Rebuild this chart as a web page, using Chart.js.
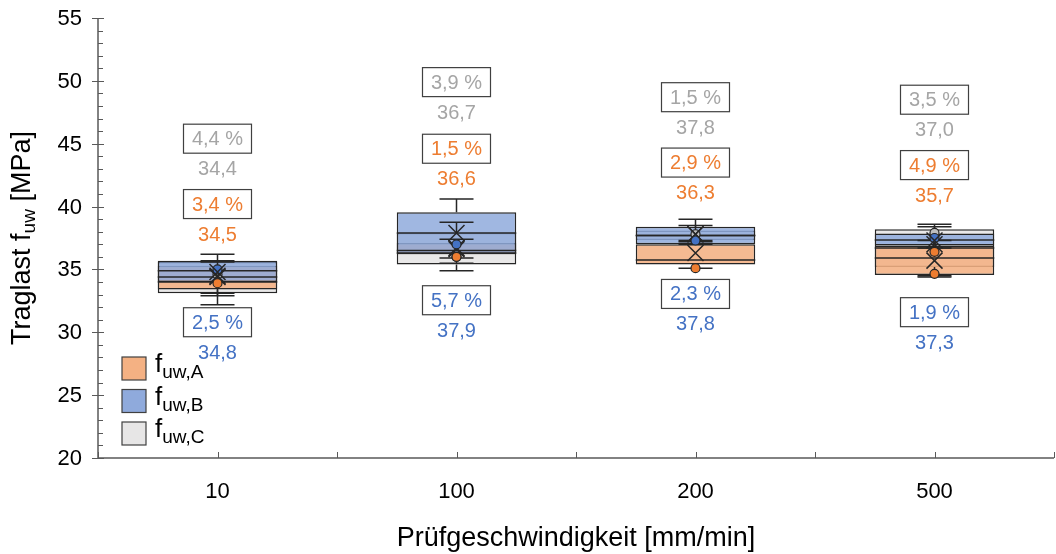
<!DOCTYPE html>
<html>
<head>
<meta charset="utf-8">
<script src="https://cdn.jsdelivr.net/npm/chart.js@4.4.1/dist/chart.umd.min.js"></script>
<style>
  html, body { margin: 0; padding: 0; background: #fff; }
  #wrap { width: 1056px; height: 554px; }
</style>
</head>
<body>
<div id="wrap"><canvas id="boxChart" width="1056" height="554"></canvas></div>
<script>
// Kategorien (Pruefgeschwindigkeit)
var categories = ['10', '100', '200', '500'];
var yTicks = [20, 25, 30, 35, 40, 45, 50, 55];

// f_uw,A (orange)
var minA  = [33.1, 35.9, 35.1, 34.5];
var q1A   = [33.4, 36.2, 35.4, 34.55];
var medA  = [34.0, 36.5, 35.75, 35.9];
var q3A   = [35.3, 37.1, 37.0, 36.9];
var maxA  = [35.6, 37.4, 37.2, 37.3];
var meanA = [34.5, 36.6, 36.3, 35.7];
var cvA   = [3.4, 1.5, 2.9, 4.9];
var ptsA  = [[33.9], [36.0], [35.1], [34.65, 36.4]];

// f_uw,B (blau)
var minB  = [32.9, 35.5, 37.0, 36.7];
var q1B   = [34.0, 36.2, 37.0, 36.9];
var medB  = [34.9, 37.9, 37.7, 37.35];
var q3B   = [35.7, 39.55, 38.4, 37.85];
var maxB  = [36.2, 40.6, 39.0, 38.4];
var meanB = [34.8, 37.9, 37.8, 37.3];
var cvB   = [2.5, 5.7, 2.3, 1.9];
var ptsB  = [[35.0], [37.0], [37.3], [37.5]];

// f_uw,C (grau)
var minC  = [32.2, 34.9, 37.3, 34.4];
var q1C   = [33.1, 35.4, 37.35, 35.2];
var medC  = [34.4, 36.3, 37.7, 36.7];
var q3C   = [35.6, 37.9, 38.1, 38.2];
var maxC  = [35.7, 38.75, 38.5, 38.6];
var meanC = [34.4, 36.7, 37.8, 37.0];
var cvC   = [4.4, 3.9, 1.5, 3.5];
var ptsC  = [[34.6], [36.0], [37.8], [37.9]];

// Position der Beschriftungskaesten (Werte in MPa, nur Layout)
var labelY = {
    A: [40.2, 44.6, 43.5, 43.3],
    B: [30.8, 32.55, 33.05, 31.6],
    C: [45.4, 49.9, 48.7, 48.5]
};

var fillA = 'rgba(244, 177, 131, 0.88)';
var fillB = 'rgba(143, 170, 220, 0.85)';
var fillC = 'rgba(231, 230, 230, 0.9)';
var textA = '#ED7D31';
var textB = '#4472C4';
var textC = '#A5A5A5';
var dark = '#262626';
var axisCol = '#595959';
var FONT = '"Liberation Sans", Arial, sans-serif';

var series = [
    { key: 'A', min: minA, q1: q1A, med: medA, q3: q3A, max: maxA, mean: meanA, cv: cvA, pts: ptsA, fill: fillA, text: textA, dot: '#ED7D31' },
    { key: 'B', min: minB, q1: q1B, med: medB, q3: q3B, max: maxB, mean: meanB, cv: cvB, pts: ptsB, fill: fillB, text: textB, dot: '#4472C4' },
    { key: 'C', min: minC, q1: q1C, med: medC, q3: q3C, max: maxC, mean: meanC, cv: cvC, pts: ptsC, fill: fillC, text: textC, dot: '#BFBFBF' }
];

function fmt(v) { return v.toFixed(1).replace('.', ','); }

function boxData(s) {
    return s.q1.map(function (q, i) { return [q, s.q3[i]]; });
}

// Achsen zeichnen (Haupt- und Nebenstriche, y-Beschriftung)
var axesPlugin = {
    id: 'axes',
    afterDatasetsDraw: function (chart) {
        var ctx = chart.ctx, a = chart.chartArea;
        var ys = chart.scales.y;
        ctx.save();
        ctx.strokeStyle = axisCol;
        ctx.lineWidth = 1.5;
        ctx.beginPath();
        ctx.moveTo(a.left, a.top);
        ctx.lineTo(a.left, a.bottom);
        ctx.lineTo(a.right, a.bottom);
        ctx.stroke();
        ctx.lineWidth = 1;
        ctx.beginPath();
        for (var v = 20; v <= 55; v++) {
            var y = Math.round(ys.getPixelForValue(v)) + 0.5;
            if (v % 5 === 0) {
                ctx.moveTo(a.left - 6, y); ctx.lineTo(a.left + 6, y);
            } else {
                ctx.moveTo(a.left, y); ctx.lineTo(a.left + 5, y);
            }
        }
        var step = (a.right - a.left) / categories.length;
        for (var k = 0; k <= categories.length * 2; k++) {
            var x = Math.round(a.left + k * step / 2) + 0.5;
            ctx.moveTo(x, a.bottom); ctx.lineTo(x, a.bottom - 6);
        }
        ctx.stroke();
        ctx.fillStyle = '#000';
        ctx.font = '22px ' + FONT;
        ctx.textAlign = 'right';
        ctx.textBaseline = 'middle';
        yTicks.forEach(function (t) {
            ctx.fillText(String(t), a.left - 16, ys.getPixelForValue(t) + 1);
        });
        ctx.restore();
    }
};

// Whisker, Median, Mittelwert, Punkte, Beschriftung
var boxPlugin = {
    id: 'boxDetails',
    afterDatasetsDraw: function (chart) {
        var ctx = chart.ctx;
        var xs = chart.scales.x, ys = chart.scales.y;
        ctx.save();
        // Reihenfolge wie Balken: C, A, B
        [2, 0, 1].forEach(function (si) {
            var s = series[si];
            var meta = chart.getDatasetMeta(si);
            categories.forEach(function (c, i) {
                var bar = meta.data[i];
                var cx = xs.getPixelForValue(i);
                var hw = bar.width / 2;
                var capW = 17;
                ctx.strokeStyle = dark;
                ctx.lineWidth = 1.5;
                ctx.beginPath();
                // Median
                var ym = ys.getPixelForValue(s.med[i]);
                ctx.moveTo(cx - hw, ym); ctx.lineTo(cx + hw, ym);
                // Whisker
                var yMax = ys.getPixelForValue(s.max[i]);
                var yMin = ys.getPixelForValue(s.min[i]);
                var yQ3 = ys.getPixelForValue(s.q3[i]);
                var yQ1 = ys.getPixelForValue(s.q1[i]);
                ctx.moveTo(cx, yQ3); ctx.lineTo(cx, yMax);
                ctx.moveTo(cx - capW, yMax); ctx.lineTo(cx + capW, yMax);
                ctx.moveTo(cx, yQ1); ctx.lineTo(cx, yMin);
                ctx.moveTo(cx - capW, yMin); ctx.lineTo(cx + capW, yMin);
                ctx.stroke();
            });
        });
        [2, 0, 1].forEach(function (si) {
            var s = series[si];
            categories.forEach(function (c, i) {
                var cx = xs.getPixelForValue(i);
                // Punkte
                s.pts[i].forEach(function (p) {
                    ctx.beginPath();
                    ctx.arc(cx, ys.getPixelForValue(p), 4.5, 0, Math.PI * 2);
                    ctx.fillStyle = s.dot;
                    ctx.fill();
                    ctx.lineWidth = 1.2;
                    ctx.strokeStyle = dark;
                    ctx.stroke();
                });
                // Mittelwert x
                var y = ys.getPixelForValue(s.mean[i]);
                var r = 8;
                ctx.beginPath();
                ctx.moveTo(cx - r, y - r); ctx.lineTo(cx + r, y + r);
                ctx.moveTo(cx - r, y + r); ctx.lineTo(cx + r, y - r);
                ctx.lineWidth = 1.5;
                ctx.strokeStyle = dark;
                ctx.stroke();
            });
        });
        // Beschriftung: CV-Kasten und Mittelwert
        ctx.textAlign = 'center';
        ctx.textBaseline = 'middle';
        ctx.font = '20px ' + FONT;
        series.forEach(function (s) {
            categories.forEach(function (c, i) {
                var cx = xs.getPixelForValue(i);
                var yb = ys.getPixelForValue(labelY[s.key][i]);
                ctx.fillStyle = '#fff';
                ctx.fillRect(cx - 34, yb - 14.5, 68, 29);
                ctx.strokeStyle = '#404040';
                ctx.lineWidth = 1.2;
                ctx.strokeRect(cx - 34, yb - 14.5, 68, 29);
                ctx.fillStyle = s.text;
                ctx.fillText(fmt(s.cv[i]) + ' %', cx, yb + 1);
                ctx.fillText(fmt(s.mean[i]), cx, yb + 31);
            });
        });
        ctx.restore();
    }
};

// Achsentitel und Legende mit Tiefstellung
function subText(ctx, x, y, main, sub, size) {
    ctx.font = size + 'px ' + FONT;
    ctx.fillText(main, x, y);
    var w = ctx.measureText(main).width;
    ctx.font = Math.round(size * 0.72) + 'px ' + FONT;
    ctx.fillText(sub, x + w, y + size * 0.3);
    return w + ctx.measureText(sub).width;
}

var titlePlugin = {
    id: 'titles',
    afterDraw: function (chart) {
        var ctx = chart.ctx, a = chart.chartArea;
        ctx.save();
        ctx.fillStyle = '#000';
        ctx.textBaseline = 'middle';
        // x-Titel
        ctx.textAlign = 'center';
        ctx.font = '27px ' + FONT;
        ctx.fillText('Prüfgeschwindigkeit [mm/min]', (a.left + a.right) / 2, 539);
        // y-Titel
        ctx.translate(23, 238);
        ctx.rotate(-Math.PI / 2);
        ctx.textAlign = 'left';
        var p1 = 'Traglast f', p3 = ' [MPa]';
        ctx.font = '27px ' + FONT;
        var w1 = ctx.measureText(p1).width, w3 = ctx.measureText(p3).width;
        ctx.font = '19px ' + FONT;
        var w2 = ctx.measureText('uw').width;
        var x0 = -(w1 + w2 + w3) / 2;
        ctx.font = '27px ' + FONT;
        ctx.fillText(p1, x0, 0);
        ctx.font = '19px ' + FONT;
        ctx.fillText('uw', x0 + w1, 7);
        ctx.font = '27px ' + FONT;
        ctx.fillText(p3, x0 + w1 + w2, 0);
        ctx.restore();

        // Legende
        ctx.save();
        ctx.textAlign = 'left';
        ctx.textBaseline = 'middle';
        var legendFill = ['rgb(244,177,131)', 'rgb(143,170,220)', 'rgb(231,230,230)'];
        var legendSub = ['uw,A', 'uw,B', 'uw,C'];
        for (var k = 0; k < 3; k++) {
            var y0 = 357 + k * 32.5;
            ctx.fillStyle = legendFill[k];
            ctx.fillRect(122, y0, 24, 23);
            ctx.strokeStyle = '#404040';
            ctx.lineWidth = 1.2;
            ctx.strokeRect(122, y0, 24, 23);
            ctx.fillStyle = '#000';
            subText(ctx, 155, y0 + 8, 'f', legendSub[k], 26);
        }
        ctx.restore();
    }
};

var ctx = document.getElementById('boxChart').getContext('2d');
var boxChart = new Chart(ctx, {
    type: 'bar',
    data: {
        labels: categories,
        datasets: series.map(function (s, idx) {
            return {
                label: 'f_uw,' + s.key,
                data: boxData(s),
                backgroundColor: s.fill,
                borderColor: dark,
                borderWidth: 1.5,
                borderSkipped: false,
                grouped: false,
                barPercentage: 0.5,
                categoryPercentage: 1,
                order: [1, 0, 2][idx]
            };
        })
    },
    options: {
        responsive: false,
        animation: false,
        layout: { padding: { top: 18, right: 2, left: 0, bottom: 0 } },
        plugins: { legend: { display: false }, tooltip: { enabled: false } },
        scales: {
            x: {
                grid: { display: false, drawTicks: false },
                border: { display: false },
                ticks: { color: '#000', font: { family: FONT, size: 22 }, padding: 21 },
                afterFit: function (s) { s.height = 96; }
            },
            y: {
                min: 20,
                max: 55,
                grid: { display: false, drawTicks: false },
                border: { display: false },
                ticks: { display: false, stepSize: 5 },
                afterFit: function (s) { s.width = 98; }
            }
        }
    },
    plugins: [axesPlugin, boxPlugin, titlePlugin]
});
</script>
</body>
</html>
